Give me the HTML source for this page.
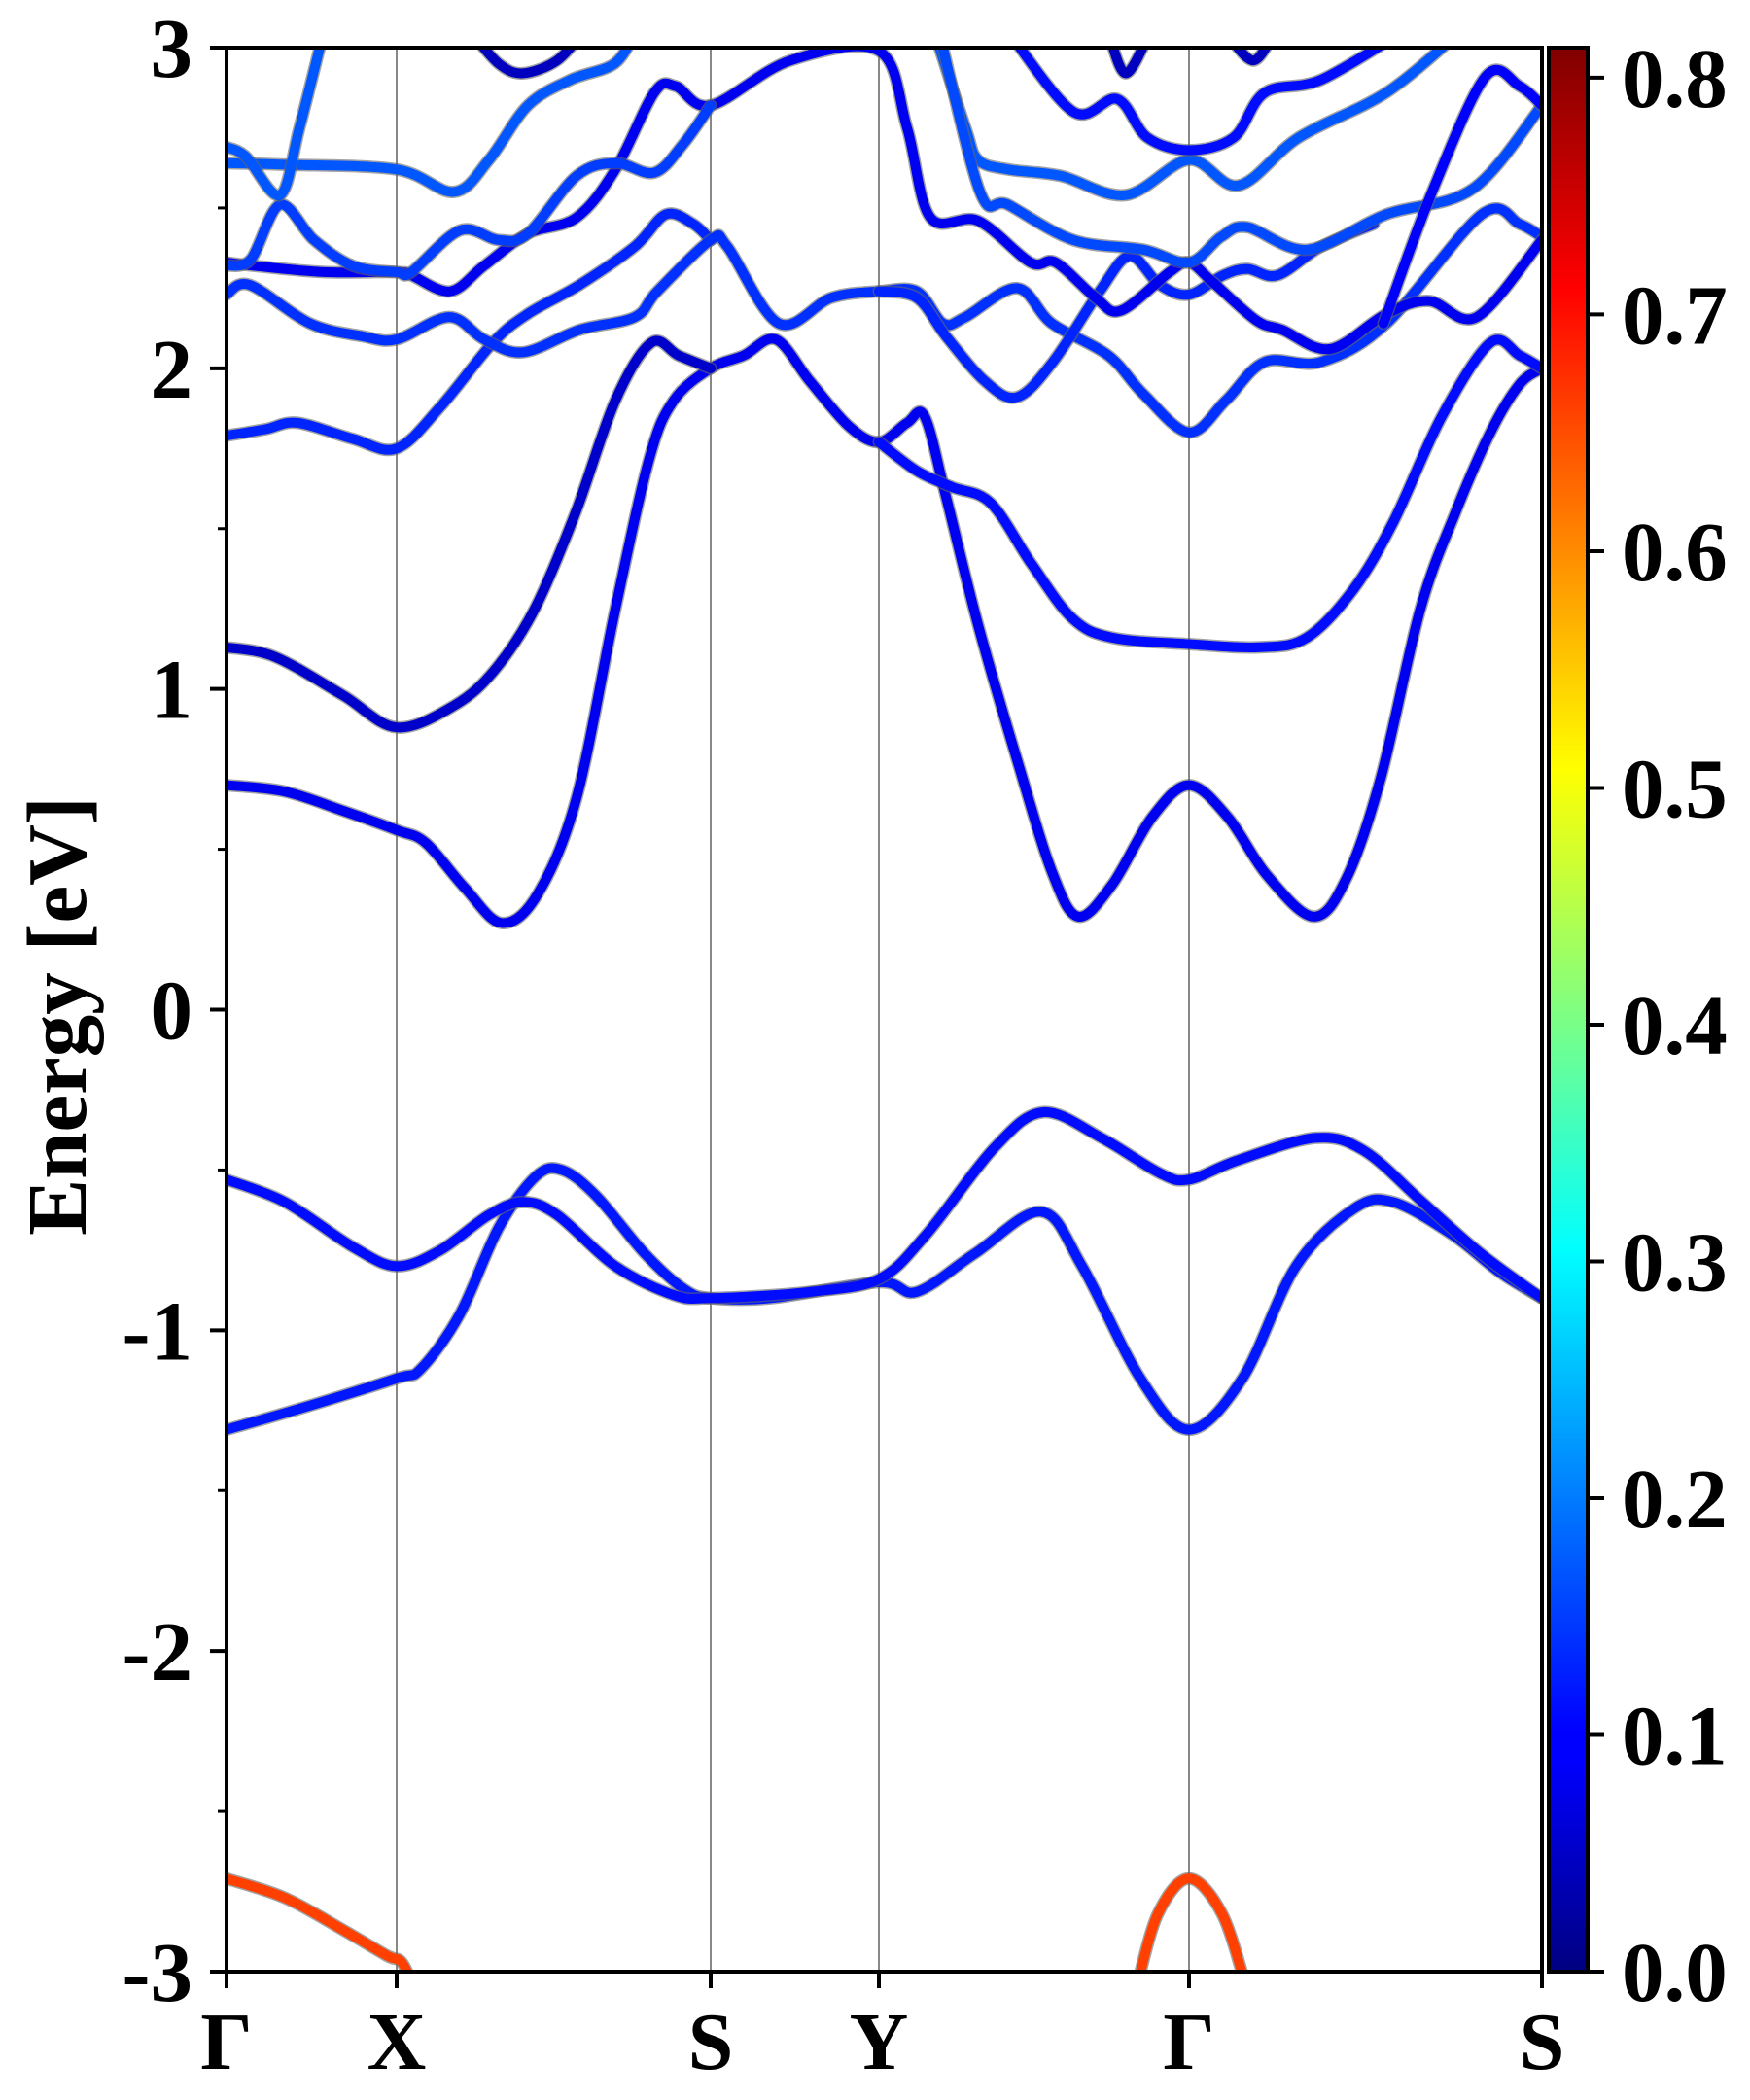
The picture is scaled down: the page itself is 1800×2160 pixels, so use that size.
<!DOCTYPE html>
<html><head><meta charset="utf-8"><style>
html,body{margin:0;padding:0;background:#fff}
svg{display:block}
text{font-family:"Liberation Serif",serif;font-weight:bold;fill:#000}
</style></head><body>
<svg id="chart" width="1800" height="2160" viewBox="0 0 1800 2160" xmlns="http://www.w3.org/2000/svg">
<defs><clipPath id="clip"><rect x="233" y="49" width="1353" height="1979"/></clipPath>
<linearGradient id="jet" x1="0" y1="1" x2="0" y2="0">
<stop offset="0" stop-color="#000080"/><stop offset="0.11" stop-color="#0000ff"/><stop offset="0.125" stop-color="#0000ff"/><stop offset="0.375" stop-color="#00ffff"/><stop offset="0.5" stop-color="#80ff80"/><stop offset="0.625" stop-color="#ffff00"/><stop offset="0.875" stop-color="#ff0000"/><stop offset="1" stop-color="#800000"/>
</linearGradient></defs>
<g id="grid"></g>
<g id="bands" clip-path="url(#clip)"></g>
<rect x="233" y="49" width="1353" height="1979" fill="none" stroke="#000" stroke-width="4"/>
<g id="axes"></g>
<text transform="translate(88,1045) rotate(-90)" text-anchor="middle" font-size="87">Energy [eV]</text>
<rect x="1593" y="49" width="40" height="1979" fill="url(#jet)" stroke="#000" stroke-width="4"/>
<g id="cbar"></g>
</svg>
<script>
const symLabels = ["Γ","X","S","Y","Γ","S"];
const symK = [0,175,498,671,990,1353];
const yTicks = [-3,-2,-1,0,1,2,3];
const yTickLabels = ["-3","-2","-1","0","1","2","3"];
const cbarTicks = [0.0,0.1,0.2,0.3,0.4,0.5,0.6,0.7,0.8];
const cbarTickLabels = ["0.0","0.1","0.2","0.3","0.4","0.5","0.6","0.7","0.8"];
const cbarMax = 0.8127;
const bandVA = [[0,-1.31],[80,-1.24],[175,-1.15],[200,-1.12],[240,-0.95],[280,-0.68],[318,-0.52],[345,-0.50],[380,-0.58],[430,-0.76],[470,-0.87],[498,-0.90],[560,-0.90],[671,-0.85],[710,-0.88],[770,-0.76],[838,-0.63],[880,-0.80],[940,-1.15],[990,-1.31],[1045,-1.15],[1100,-0.80],[1160,-0.62],[1200,-0.60],[1260,-0.70],[1310,-0.82],[1353,-0.90]];
const bandVB = [[0,-0.53],[60,-0.60],[130,-0.74],[175,-0.80],[220,-0.75],[270,-0.64],[305,-0.60],[340,-0.64],[400,-0.80],[460,-0.89],[498,-0.90],[600,-0.88],[671,-0.84],[720,-0.70],[790,-0.43],[840,-0.32],[900,-0.40],[960,-0.51],[990,-0.53],[1040,-0.47],[1120,-0.40],[1170,-0.44],[1230,-0.60],[1290,-0.76],[1353,-0.90]];
const bandC1 = [[0,0.70],[60,0.68],[120,0.62],[175,0.56],[205,0.52],[245,0.38],[283,0.27],[320,0.36],[360,0.66],[400,1.25],[435,1.72],[460,1.90],[498,2.0],[532,2.04],[565,2.09],[600,1.96],[640,1.82],[671,1.77],[700,1.83],[718,1.85],[740,1.6],[773,1.2],[814,0.77],[849,0.43],[876,0.29],[911,0.39],[952,0.60],[990,0.70],[1030,0.60],[1070,0.42],[1118,0.29],[1152,0.41],[1187,0.72],[1228,1.25],[1264,1.55],[1300,1.80],[1330,1.95],[1353,2.0]];
const bandC2 = [[0,1.13],[50,1.10],[120,0.98],[175,0.88],[235,0.95],[276,1.06],[317,1.25],[359,1.55],[400,1.90],[437,2.08],[465,2.04],[498,2.0]];
const bandC3 = [[671,1.77],[710,1.68],[746,1.63],[786,1.58],[828,1.39],[870,1.22],[911,1.16],[990,1.14],[1063,1.13],[1111,1.16],[1159,1.31],[1200,1.52],[1250,1.85],[1300,2.08],[1330,2.04],[1353,2.0]];
const bandE = [[0,1.79],[40,1.81],[73,1.83],[130,1.78],[175,1.75],[220,1.88],[274,2.08],[310,2.17],[363,2.26],[420,2.38],[452,2.48],[480,2.45],[498,2.40]];
const bandD = [[0,2.23],[24,2.26],[86,2.14],[140,2.10],[175,2.09],[229,2.16],[265,2.09],[305,2.05],[363,2.12],[420,2.16],[443,2.24],[498,2.40],[515,2.38],[568,2.14],[622,2.22],[671,2.24],[710,2.24],[737,2.14],[760,2.16],[813,2.25],[849,2.14],[907,2.04],[943,1.92],[990,1.80],[1028,1.90],[1068,2.02],[1126,2.02],[1193,2.14],[1291,2.48],[1330,2.45],[1353,2.41]];
const bandQ = [[671,2.24],[710,2.22],[740,2.10],[780,1.96],[813,1.91],[850,2.02],[898,2.24],[929,2.35],[960,2.26],[990,2.23],[1025,2.29],[1050,2.31],[1081,2.29],[1126,2.38],[1180,2.45]];
const bandM1 = [[0,2.33],[27,2.32],[100,2.30],[175,2.30],[190,2.29],[230,2.24],[265,2.32],[310,2.42],[360,2.47],[400,2.62],[440,2.86],[462,2.88],[498,2.82],[580,2.96],[671,2.99],[700,2.75],[724,2.47],[773,2.46],[827,2.33],[853,2.33],[894,2.22],[920,2.18],[970,2.30],[990,2.33],[1014,2.27],[1059,2.15],[1086,2.12],[1135,2.06],[1193,2.17],[1237,2.21],[1286,2.16],[1353,2.40]];
const bandM2 = [[0,2.32],[25,2.34],[55,2.51],[90,2.40],[130,2.32],[175,2.30],[190,2.30],[240,2.43],[280,2.40],[310,2.42],[360,2.60],[400,2.64],[440,2.61],[470,2.70],[498,2.82]];
const bandL1 = [[0,2.64],[60,2.635],[175,2.62],[234,2.55],[270,2.65],[310,2.82],[354,2.90],[399,2.95],[421,3.05]];
const bandL2 = [[0,2.69],[20,2.66],[55,2.54],[75,2.75],[100,3.05]];
const bandT1 = [[251,3.05],[280,2.95],[305,2.92],[340,2.96],[367,3.05]];
const bandU1 = [[728,3.05],[760,2.75],[773,2.65],[804,2.62],[858,2.60],[925,2.54],[990,2.65],[1041,2.57],[1103,2.72],[1193,2.86],[1269,3.05]];
const bandU2 = [[804,3.05],[871,2.80],[916,2.84],[947,2.72],[990,2.68],[1036,2.72],[1068,2.86],[1126,2.90],[1210,3.05]];
const bandU3 = [[733,3.05],[775,2.55],[804,2.51],[871,2.40],[943,2.37],[990,2.33],[1023,2.41],[1050,2.44],[1112,2.37],[1193,2.48],[1282,2.56],[1353,2.82]];
const bandT2 = [[907,3.05],[925,2.92],[950,3.05]];
const bandT3 = [[1032,3.03],[1056,2.96],[1075,3.03]];
const bandR = [[1190,2.14],[1240,2.55],[1295,2.91],[1330,2.88],[1353,2.82]];
const bandRed1 = [[0,-2.71],[60,-2.77],[120,-2.87],[165,-2.95],[180,-2.97],[193,-3.05]];
const bandRed2 = [[936,-3.05],[958,-2.82],[990,-2.71],[1024,-2.82],[1049,-3.05]];
const bandList = [bandVA,bandVB,bandC1,bandC2,bandC3,bandE,bandD,bandQ,bandM1,bandM2,bandL1,bandL2,bandT1,bandU1,bandU2,bandU3,bandT2,bandT3,bandR,bandRed1,bandRed2];
const bandNames = ["valence-a","valence-b","conduction-1","conduction-2","conduction-3","band-e","band-d","band-q","band-m1","band-m2","band-l1","band-l2","band-t1","band-u1","band-u2","band-u3","band-t2","band-t3","band-r","band-red-1","band-red-2"];
const bandWeights = [0.12,0.11,0.09,0.06,0.11,0.13,0.14,0.13,0.09,0.15,0.17,0.17,0.05,0.17,0.11,0.16,0.05,0.05,0.10,0.66,0.66];

const X0=233,X1=1586,Y0=2028,Y1=49,EMIN=-3,EMAX=3;
const xs=k=>X0+(k-symK[0])/(symK[symK.length-1]-symK[0])*(X1-X0);
const ys=e=>Y0-(e-EMIN)/(EMAX-EMIN)*(Y0-Y1);
const cs=v=>Y0-v/cbarMax*(Y0-Y1);
function jet(v){const t=Math.max(0,Math.min(1,v/cbarMax));
 const c=x=>Math.round(255*Math.max(0,Math.min(1,x)));
 return `rgb(${c(1.5-Math.abs(4*t-3))},${c(1.5-Math.abs(4*t-2))},${c(1.5-Math.abs(4*t-1))})`;}
const NS="http://www.w3.org/2000/svg";
function mk(tag,attrs,parent){const e=document.createElementNS(NS,tag);for(const a in attrs)e.setAttribute(a,attrs[a]);parent.appendChild(e);return e;}
function smooth(pts){let d=`M${pts[0][0]},${pts[0][1]}`;
 for(let i=0;i<pts.length-1;i++){const p0=pts[Math.max(0,i-1)],p1=pts[i],p2=pts[i+1],p3=pts[Math.min(pts.length-1,i+2)];
  const c1=[p1[0]+(p2[0]-p0[0])/6,p1[1]+(p2[1]-p0[1])/6],c2=[p2[0]-(p3[0]-p1[0])/6,p2[1]-(p3[1]-p1[1])/6];
  d+=` C${c1[0].toFixed(1)},${c1[1].toFixed(1)} ${c2[0].toFixed(1)},${c2[1].toFixed(1)} ${p2[0].toFixed(1)},${p2[1].toFixed(1)}`;}
 return d;}
const grid=document.getElementById('grid');
symK.slice(1,-1).forEach(k=>{const l=mk('line',{x1:xs(k),x2:xs(k),y1:Y1,y2:Y0,stroke:'#888','stroke-width':2},grid);
 
 });
const bg=document.getElementById('bands');
bandList.forEach((b,i)=>{const pts=b.map(p=>[xs(p[0]),ys(p[1])]);const d=smooth(pts);
 const u=mk('path',{d:d,fill:'none',stroke:'#666','stroke-width':13,'stroke-linecap':'round','stroke-opacity':0.6},bg);
 
 
 const p=mk('path',{d:d,fill:'none',stroke:jet(bandWeights[i]),'stroke-width':10,'stroke-linecap':'round'},bg);
 
 });
const ax=document.getElementById('axes');
yTicks.forEach((v,i)=>{const y=ys(v);
 const t=mk('line',{x1:X0-17,x2:X0,y1:y,y2:y,stroke:'#000','stroke-width':4},ax);
 
 
 const tx=mk('text',{x:198,y:y+30,'text-anchor':'end','font-size':87},ax);tx.textContent=yTickLabels[i];
 
 
 if(i<yTicks.length-1){const ym=ys(v+0.5);const m=mk('line',{x1:X0-9,x2:X0,y1:ym,y2:ym,stroke:'#000','stroke-width':3},ax);
  
  }});
symK.forEach((k,i)=>{const x=xs(k);
 const t=mk('line',{x1:x,x2:x,y1:Y0,y2:Y0+17,stroke:'#000','stroke-width':4},ax);
 
 
 const tx=mk('text',{x:x,y:2128,'text-anchor':'middle','font-size':84},ax);tx.textContent=symLabels[i];
 
 });
const cb=document.getElementById('cbar');
cbarTicks.forEach((v,i)=>{const y=cs(v);
 const t=mk('line',{x1:1633,x2:1650,y1:y,y2:y,stroke:'#000','stroke-width':4},cb);
 
 
 const tx=mk('text',{x:1668,y:y+30,'font-size':87},cb);tx.textContent=cbarTickLabels[i];
 
 });
</script>
</body></html>
